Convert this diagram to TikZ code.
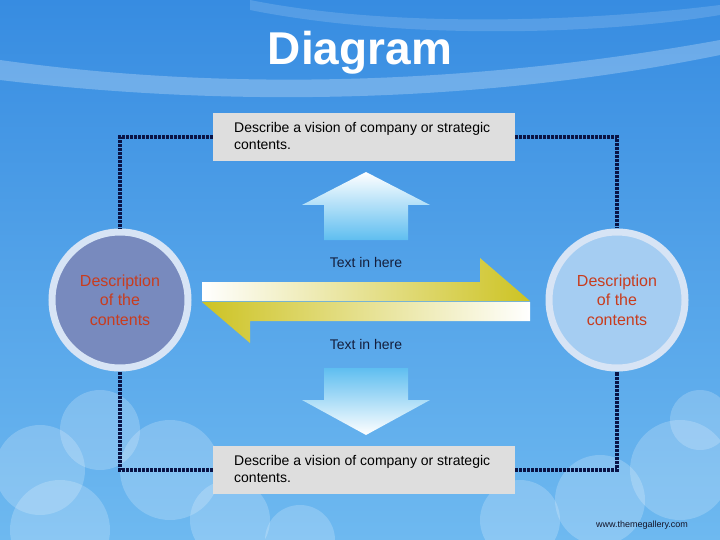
\documentclass[tikz,border=0pt]{standalone}
\usepackage{fontspec}
\setmainfont{Liberation Sans}
\begin{document}
\begin{tikzpicture}[x=1pt,y=-1pt,
  txtbox/.style={fill={rgb,255:red,222;green,222;blue,222},draw=none,minimum width=302pt,minimum height=48pt,inner sep=0pt},
  dline/.style={draw={rgb,255:red,10;green,20;blue,70},line width=3.5pt,dash pattern=on 2.5pt off 1.5pt},
  circtxt/.style={text={rgb,255:red,200;green,60;blue,30},font=\fontsize{16}{19.5}\selectfont,align=center},
  lbl/.style={text={rgb,255:red,20;green,30;blue,60},font=\fontsize{14}{17}\selectfont}]
\definecolor{skytop}{RGB}{55,140,225}
\definecolor{skybot}{RGB}{110,185,240}
\definecolor{arrblue}{RGB}{95,190,240}
\definecolor{yel}{RGB}{205,195,35}
\definecolor{midline}{RGB}{120,180,210}
\useasboundingbox (0,0) rectangle (720,540);
\shade[top color=skytop,bottom color=skybot] (0,0) rectangle (720,540);
% top streaks
\fill[white,opacity=0.25] (0,60) .. controls (250,95) and (500,80) .. (720,40) -- (720,55) .. controls (500,100) and (250,110) .. (0,80) -- cycle;
\fill[white,opacity=0.15] (250,0) .. controls (400,30) and (600,20) .. (720,5) -- (720,15) .. controls (600,35) and (400,40) .. (250,10) -- cycle;
% clouds
\foreach \x/\y/\r in {40/470/45,100/430/40,170/470/50,230/520/40,60/530/50,520/520/40,600/500/45,680/470/50,700/420/30,300/540/35}
  \fill[white,opacity=0.2] (\x,\y) circle (\r);
% title
\node[text=white,font=\bfseries\fontsize{46}{50}\selectfont] (title) at (360,53) {Diagram};
% boxes
\node[txtbox] (top) at (364,137) {};
\node[txtbox] (bot) at (364,470) {};
\node[anchor=north west,align=left,font=\fontsize{14}{17}\selectfont,inner sep=0pt] (toptxt) at (234,122) {Describe a vision of company or strategic\\contents.};
\node[anchor=north west,align=left,font=\fontsize{14}{17}\selectfont,inner sep=0pt] (bottxt) at (234,455) {Describe a vision of company or strategic\\contents.};
% circles
\node[circle,minimum size=136pt,fill={rgb,255:red,120;green,138;blue,190},draw={rgb,255:red,215;green,228;blue,245},line width=7pt,inner sep=0pt] (lc) at (120,300) {};
\node[circle,minimum size=136pt,fill={rgb,255:red,165;green,205;blue,242},draw={rgb,255:red,215;green,228;blue,245},line width=7pt,inner sep=0pt] (rc) at (617,300) {};
\node[circtxt] at (lc) {Description\\of the\\contents};
\node[circtxt] at (rc) {Description\\of the\\contents};
% dotted connectors
\draw[dline] (top.west) -| (lc.north);
\draw[dline] (top.east) -| (rc.north);
\draw[dline] (bot.west) -| (lc.south);
\draw[dline] (bot.east) -| (rc.south);
% up arrow
\shade[top color=white,bottom color=arrblue] (366,172) -- (430,205) -- (408,205) -- (408,240) -- (324,240) -- (324,205) -- (302,205) -- cycle;
% down arrow
\shade[top color=arrblue,bottom color=white] (324,368) -- (408,368) -- (408,400) -- (430,400) -- (366,435) -- (302,400) -- (324,400) -- cycle;
% right arrow
\shade[left color=white,right color=yel] (202,282) -- (480,282) -- (480,258) -- (530,301) -- (202,301) -- cycle;
% left arrow
\shade[left color=yel,right color=white] (530,302) -- (530,321) -- (250,321) -- (250,343) -- (202,302) -- cycle;
\draw[midline,line width=1pt] (202,301.5) -- (530,301.5);
\node[lbl] (t1) at (366,262) {Text in here};
\node[lbl] (t2) at (366,344) {Text in here};
\node[font=\fontsize{9}{10}\selectfont,text={rgb,255:red,20;green,20;blue,40}] (www) at (642,525) {www.themegallery.com};
\end{tikzpicture}
\end{document}
